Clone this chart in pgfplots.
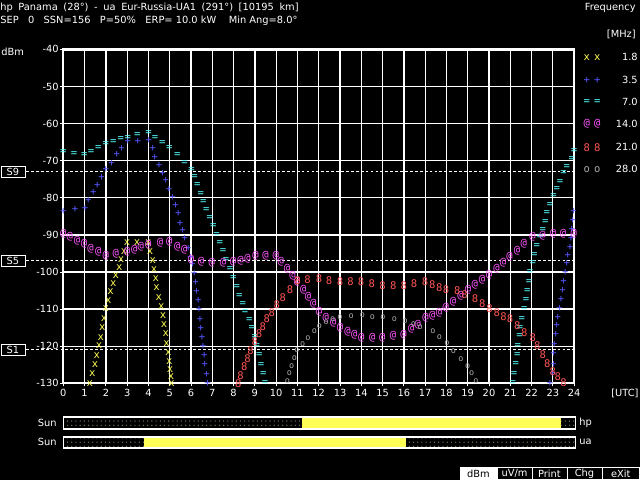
\documentclass[border=0pt]{standalone}
\usepackage{pgfplots}
\pgfplotsset{compat=1.18}
\usetikzlibrary{patterns}
\usepackage{fontspec}
\setmainfont{DejaVu Sans}
\newfontfamily\monofont{DejaVu Sans Mono}
\definecolor{cyel}{RGB}{255,255,85}
\definecolor{cblue}{RGB}{85,85,255}
\definecolor{ccyan}{RGB}{85,255,255}
\definecolor{cmag}{RGB}{255,85,255}
\definecolor{cred}{RGB}{255,85,85}
\definecolor{cgray}{RGB}{170,170,170}
\definecolor{sunyel}{RGB}{255,255,85}
\definecolor{nightdot}{RGB}{120,120,90}
\newcommand\tf{\fontsize{7}{8}\selectfont}
\newcommand\mf{\fontsize{7.5}{7.5}\selectfont\monofont}
\begin{document}
\begin{tikzpicture}
\begin{scope}[x=0.025cm,y=0.025cm]
\fill[black] (0,0) rectangle (640,480);
% header
\node[anchor=base west, white, font=\tf, inner sep=0] at (0,469) {\spaceskip=4pt hp Panama (28°) - ua Eur-Russia-UA1 (291°) [10195 km]};
\node[anchor=base west, white, font=\tf, inner sep=0] at (0,456) {SEP\ \ \ 0\ \ \ SSN=156\ \ \ P=50\%\ \ \ ERP=\ 10.0\ kW\ \ \ \ Min Ang=8.0°};
\node[anchor=base west, white, font=\tf, inner sep=0] at (1,425) {dBm};
\node[anchor=base east, white, font=\tf, inner sep=0] at (636,469) {Frequency};
\node[anchor=base east, white, font=\tf, inner sep=0] at (636,442) {[MHz]};
% legend
\foreach \yy/\sym/\col/\lab in {422.7/x/cyel/1.8, 400/+/cblue/3.5, 377.7/=/ccyan/7.0, 356/@/cmag/14.0, 332.7/8/cred/21.0, 310.7/o/cgray/28.0}{
  \node[text=\col, font=\mf, inner sep=0] at (586.7,\yy) {\sym};
  \node[text=\col, font=\mf, inner sep=0] at (597.3,\yy) {\sym};
  \node[anchor=east, white, font=\tf, inner sep=0] at (638,\yy) {\lab};
}
\node[anchor=west, white, font=\tf, inner sep=0] at (611,87) {[UTC]};
\node[anchor=east, white, font=\tf, inner sep=0] at (57,57) {Sun};
\node[anchor=east, white, font=\tf, inner sep=0] at (57,38) {Sun};
\node[anchor=west, white, font=\tf, inner sep=0] at (579,57) {hp};
\node[anchor=west, white, font=\tf, inner sep=0] at (579,38) {ua};
% buttons
\fill[white] (460,0) rectangle (497,13);
\node[black, font=\tf, inner sep=0] at (478.5,6.5) {dBm};
\foreach \a/\b/\t in {497/532/{uV/m}, 532/567/Print, 567/602/Chg, 602/639.5/eXit}{
  \draw[white, line width=0.6pt] (\a,0.3) rectangle (\b,13);
  \node[white, font=\tf, inner sep=0] at ({(\a+\b)/2},6.5) {\t};
}
\end{scope}
% main axis
\begin{axis}[at={(1.5825cm,2.4175cm)}, anchor=south west, scale only axis,
  width=12.7675cm, height=8.345cm,
  xmin=0, xmax=24, ymin=-130, ymax=-40,
  xtick={0,1,...,24}, ytick={-130,-120,...,-40},
  grid=major, grid style={white, line width=0.9pt},
  axis line style={white, line width=1.6pt},
  tick style={white, line width=0.6pt}, tick align=outside,
  major tick length=0.075cm, tick pos=left,
  ticklabel style={white, font=\tf},
  yticklabel style={inner xsep=1pt},
  xticklabel style={inner ysep=2pt},
  /pgf/number format/assume math mode=true,
  clip=false, axis background/.style={fill=black},
  every axis plot/.append style={only marks, mark=text, text mark as node=true, text mark style={font=\mf, inner sep=0pt}}]
\foreach \lv/\nm in {-73/S9,-97/S5,-121/S1}{
  \edef\tmp{\noexpand\draw[white, line width=0.7pt, dash pattern=on 2pt off 1.5pt] (axis cs:-1.75,\lv) -- (axis cs:24,\lv);
  \noexpand\node[draw=white, fill=black, text=white, font=\noexpand\tf, line width=0.6pt, minimum width=0.6cm, minimum height=0.275cm, inner sep=0] at (axis cs:-2.364,\lv) {\nm};}
  \tmp
}
\draw[white, line width=1pt, dash pattern=on 2pt off 1.5pt] (axis cs:13,-130) -- (axis cs:13,-40);
% 1.8 MHz
\addplot[color=cyel, text mark={x}] coordinates {(1.25,-130)(1.36,-127.3)(1.49,-125.0)(1.57,-122.6)(1.68,-119.9)(1.76,-117.6)(1.83,-115.1)(1.91,-112.7)(2.0,-110.0)(2.11,-107.7)(2.22,-105.3)(2.35,-103.2)(2.47,-101.0)(2.63,-98.8)(2.71,-96.7)(2.85,-94.5)(3.0,-92.0)(3.47,-92.0)(3.99,-92.0)(4.07,-94.5)(4.2,-96.9)(4.26,-99.4)(4.34,-101.9)(4.38,-104.3)(4.49,-106.8)(4.6,-109.3)(4.69,-111.8)(4.73,-114.2)(4.81,-116.7)(4.85,-119.2)(4.93,-121.7)(4.98,-124.1)(5.01,-126.4)(5.06,-128.2)(5.09,-130)};
% 3.5 MHz
\addplot[color=cblue, text mark={+}] coordinates {(0,-83.7)(0.55,-83.1)(1.02,-82.8)(1.17,-80.7)(1.41,-78.7)(1.6,-76.7)(1.8,-74.5)(2.0,-72.5)(2.27,-70.7)(2.51,-68.4)(2.74,-66.6)(3.03,-64.8)(3.5,-64.7)(4.02,-64.6)(4.2,-66.8)(4.3,-69.0)(4.5,-71.3)(4.66,-73.4)(4.82,-75.4)(4.97,-77.7)(5.13,-79.9)(5.27,-82.2)(5.4,-84.3)(5.48,-86.8)(5.6,-88.8)(5.71,-91.1)(5.87,-93.6)(5.98,-96.0)(6.07,-98.1)(6.15,-100.5)(6.21,-102.8)(6.26,-105.3)(6.34,-107.7)(6.38,-110.2)(6.42,-112.7)(6.46,-115.1)(6.52,-117.6)(6.57,-120.1)(6.62,-122.6)(6.65,-125.0)(6.73,-127.5)(6.78,-130)
(22.87,-130)(23.0,-127.3)(23.03,-124.8)(23.03,-122.1)(23.07,-119.6)(23.14,-116.9)(23.19,-114.5)(23.23,-112.2)(23.31,-109.9)(23.39,-107.5)(23.45,-105.1)(23.5,-102.6)(23.58,-100.1)(23.66,-97.8)(23.7,-95.6)(23.81,-93.3)(23.86,-90.9)(23.89,-88.6)(23.94,-86.1)(23.97,-83.7)};
% 7.0 MHz
\addplot[color=ccyan, text mark={=}] coordinates {(0,-67.7)(0.5,-68.2)(0.99,-68.6)(1.3,-67.7)(1.64,-66.6)(2.0,-65.5)(2.35,-65.0)(2.7,-64.2)(3.03,-63.8)(3.48,-63.2)(4.0,-62.6)(4.31,-63.9)(4.65,-65.3)(4.98,-66.5)(5.36,-68.6)(5.69,-70.7)(6.03,-72.5)(6.16,-74.4)(6.3,-76.7)(6.46,-78.9)(6.58,-81.2)(6.72,-83.3)(6.88,-85.4)(7.05,-87.7)(7.2,-90.0)(7.35,-92.3)(7.5,-94.5)(7.65,-96.9)(7.83,-99.2)(7.99,-101.7)(8.15,-104.1)(8.27,-106.4)(8.43,-108.6)(8.54,-110.7)(8.74,-112.9)(8.85,-115.1)(9.0,-117.6)(9.09,-120.1)(9.21,-122.5)(9.29,-125.0)(9.4,-127.5)(9.48,-130)
(21.12,-130)(21.18,-127.5)(21.26,-124.8)(21.33,-122.5)(21.35,-119.9)(21.43,-117.4)(21.46,-115.1)(21.54,-112.7)(21.66,-110.0)(21.74,-107.5)(21.8,-105.1)(21.88,-102.6)(21.93,-100.1)(22.06,-97.5)(22.13,-95.4)(22.25,-93.1)(22.4,-90.6)(22.53,-88.8)(22.64,-86.6)(22.72,-84.1)(22.87,-81.9)(23.03,-79.5)(23.19,-77.7)(23.34,-75.9)(23.5,-73.4)(23.66,-71.6)(23.89,-69.5)(24.0,-67.5)};
% 14.0 MHz
\addplot[color=cmag, text mark={@}] coordinates {(0,-89.7)(0.31,-90.4)(0.65,-91.5)(0.97,-92.4)(1.28,-93.6)(1.64,-94.5)(2.0,-95.6)(2.47,-95.2)(3.0,-94.5)(3.33,-94.0)(3.64,-93.3)(3.99,-92.7)(4.54,-92.2)(4.98,-91.8)(5.35,-93.1)(5.68,-94.0)(6.0,-96.7)(6.47,-97.3)(6.98,-97.6)(7.5,-97.4)(7.98,-97.3)(8.33,-96.9)(8.65,-96.5)(9.03,-95.6)(9.5,-95.6)(9.98,-95.6)(10.22,-97.3)(10.51,-99.2)(10.77,-101.0)(10.98,-102.6)(11.27,-104.8)(11.5,-106.8)(11.74,-108.6)(12.02,-110.7)(12.33,-112.2)(12.68,-113.6)(13.0,-114.9)(13.35,-116.0)(13.67,-116.8)(14.0,-117.8)(14.52,-117.7)(14.99,-117.7)(15.49,-117.2)(15.99,-116.8)(16.35,-115.3)(16.66,-114.1)(17.02,-112.4)(17.34,-111.8)(17.65,-110.9)(17.97,-109.7)(18.31,-108.0)(18.66,-106.4)(19.01,-104.8)(19.33,-103.5)(19.67,-102.1)(20.0,-100.8)(20.35,-99.0)(20.66,-97.5)(20.97,-95.8)(21.32,-94.2)(21.64,-92.4)(22.04,-90.6)(22.51,-90.3)(23.01,-89.7)(23.48,-89.7)(23.98,-89.7)};
% 21.0 MHz
\addplot[color=cred, text mark={8}] coordinates {(8.22,-130)(8.33,-128.0)(8.5,-125.5)(8.66,-123.4)(8.8,-121.2)(9.0,-118.7)(9.2,-116.7)(9.37,-114.7)(9.56,-112.7)(9.79,-110.9)(10.03,-108.9)(10.31,-106.8)(10.65,-104.8)(11.0,-102.4)(11.48,-102.1)(12.02,-101.7)(12.49,-102.3)(13.0,-102.7)(13.5,-102.7)(13.99,-102.7)(14.49,-103.2)(15.0,-103.7)(15.5,-103.7)(16.0,-103.7)(16.48,-103.2)(17.0,-102.6)(17.34,-103.5)(17.67,-104.2)(17.98,-104.8)(18.51,-105.1)(18.85,-106.0)(19.34,-107.2)(19.69,-108.6)(20.02,-109.8)(20.37,-110.9)(20.68,-112.0)(20.99,-112.7)(21.33,-114.5)(21.66,-116.3)(22.06,-117.6)(22.27,-119.9)(22.53,-122.3)(22.74,-124.6)(23.0,-126.8)(23.23,-128.2)(23.5,-129.8)};
% 28.0 MHz
\addplot[color=cgray, text mark={o}, text mark style={font=\fontsize{6}{6}\selectfont\monofont}] coordinates {(10.53,-129.5)(10.62,-127.4)(10.73,-125.5)(10.86,-123.2)(10.97,-121.2)(11.25,-119.6)(11.49,-117.8)(11.8,-116.0)(12.03,-114.5)(12.35,-113.5)(12.66,-112.7)(13.0,-112.2)(13.52,-112.0)(14.05,-111.6)(14.52,-112.2)(15.01,-112.3)(15.55,-112.7)(16.06,-113.4)(16.45,-114.2)(16.76,-114.8)(17.36,-116.0)(17.67,-117.6)(18.02,-119.1)(18.33,-121.4)(18.68,-123.4)(19.0,-125.5)(19.19,-127.4)(19.39,-129.5)};
\end{axis}
% sun bars
\begin{axis}[at={(1.5825cm,1.275cm)}, anchor=south west, scale only axis,
  width=12.81cm, height=0.3cm, xmin=0, xmax=24, ymin=0, ymax=1,
  ticks=none, axis line style={white, line width=0.8pt}, axis on top,
  axis background/.style={fill=black}]
\addplot[draw=none, pattern=dots, pattern color=nightdot] coordinates {(0,1)(11.17,1)} \closedcycle;
\addplot[draw=none, fill=sunyel] coordinates {(11.17,1)(23.3,1)} \closedcycle;
\addplot[draw=none, pattern=dots, pattern color=nightdot] coordinates {(23.3,1)(24,1)} \closedcycle;
\end{axis}
\begin{axis}[at={(1.5825cm,0.8cm)}, anchor=south west, scale only axis,
  width=12.81cm, height=0.275cm, xmin=0, xmax=24, ymin=0, ymax=1,
  ticks=none, axis line style={white, line width=0.8pt}, axis on top,
  axis background/.style={fill=black}]
\addplot[draw=none, pattern=dots, pattern color=nightdot] coordinates {(0,1)(3.79,1)} \closedcycle;
\addplot[draw=none, fill=sunyel] coordinates {(3.79,1)(16.06,1)} \closedcycle;
\addplot[draw=none, pattern=dots, pattern color=nightdot] coordinates {(16.06,1)(24,1)} \closedcycle;
\end{axis}
\end{tikzpicture}
\end{document}
